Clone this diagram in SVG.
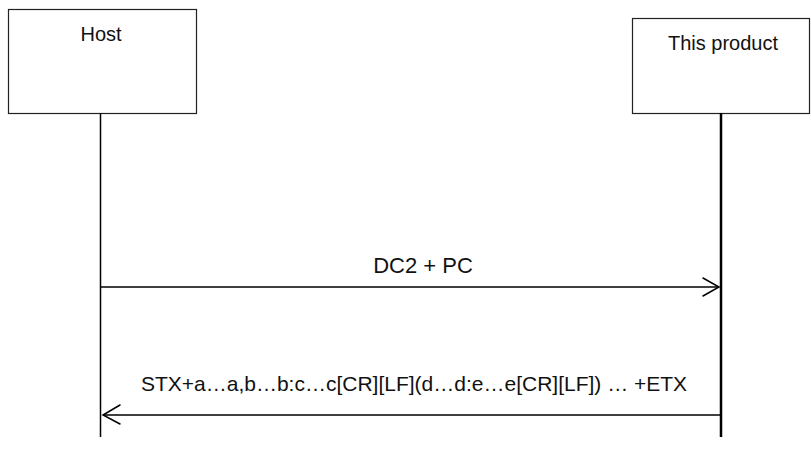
<svg xmlns="http://www.w3.org/2000/svg" width="811" height="465" viewBox="0 0 811 465">
<style>
.box{fill:#fff;stroke:#222;stroke-width:1.2}
.lbl{font-family:"Liberation Sans",Arial,sans-serif;fill:#111;text-anchor:middle}
.msg{stroke:#000;stroke-width:1.5;fill:none}
.head{stroke:#000;stroke-width:1.5;fill:none;stroke-linecap:round;stroke-linejoin:miter}
</style>
<rect width="811" height="465" fill="#fff"/>
<g id="host">
<rect class="box" x="8.5" y="9.5" width="188" height="104"/>
<text class="lbl" x="101" y="41" font-size="20">Host</text>
<line x1="100.5" y1="113" x2="100.5" y2="437" stroke="#000" stroke-width="1.5"/>
</g>
<g id="product">
<rect class="box" x="632.5" y="18.5" width="177" height="95"/>
<text class="lbl" x="723" y="50" font-size="20">This product</text>
<line x1="721" y1="113" x2="721" y2="437" stroke="#000" stroke-width="2.5"/>
</g>
<g id="connectors">
<line class="msg" x1="100" y1="287" x2="719" y2="287"/>
<polyline class="head" points="703,278 719,287 703,296"/>
<text class="lbl" x="423" y="273" font-size="22">DC2 + PC</text>
<line class="msg" x1="720" y1="415" x2="103" y2="415"/>
<polyline class="head" points="120,405 103,415 120,424"/>
<text class="lbl" x="414" y="391" font-size="21">STX+a…a,b…b:c…c[CR][LF](d…d:e…e[CR][LF]) … +ETX</text>
</g>
</svg>
